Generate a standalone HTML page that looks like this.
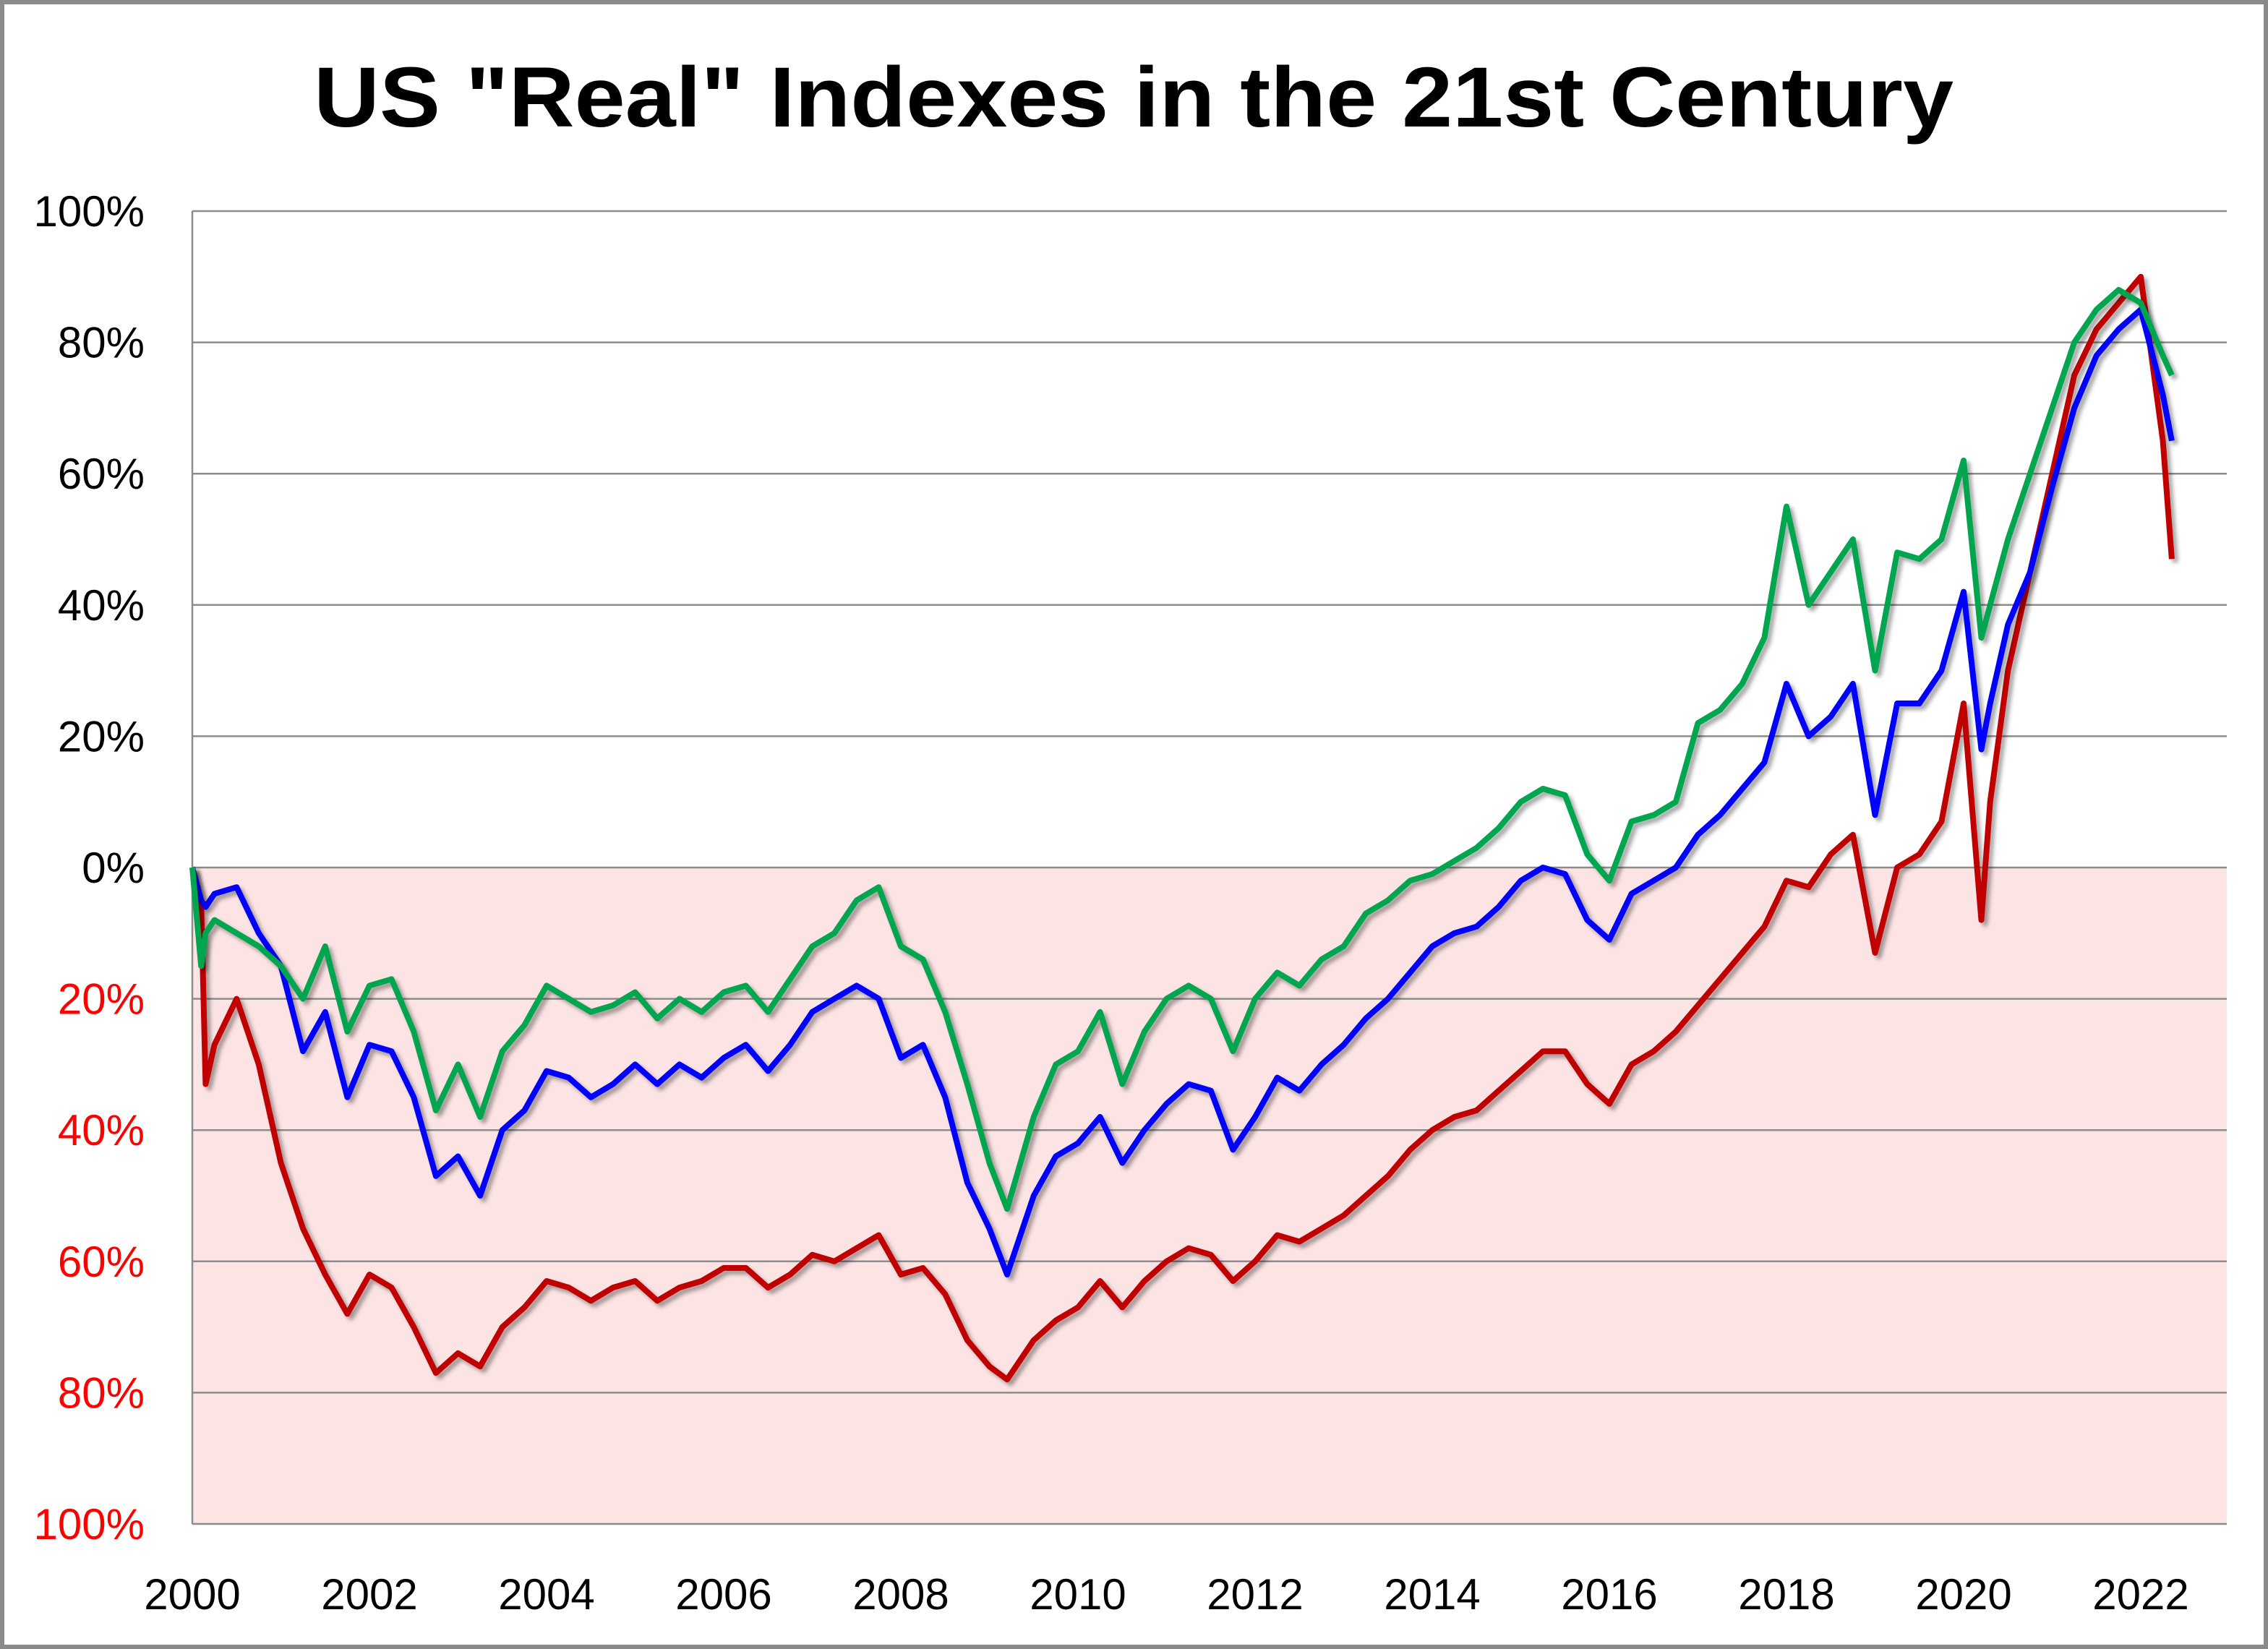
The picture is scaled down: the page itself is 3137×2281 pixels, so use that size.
<!DOCTYPE html>
<html><head><meta charset="utf-8"><style>
html,body{margin:0;padding:0;background:#fff}
svg{display:block}
text{font-family:"Liberation Sans",sans-serif}
</style></head><body>
<svg id="chart" width="3137" height="2281" viewBox="0 0 3137 2281">
<defs><filter id="sh" x="-5%" y="-5%" width="110%" height="110%"><feDropShadow dx="5" dy="5" stdDeviation="3" flood-color="#000" flood-opacity="0.35"/></filter></defs>
<rect x="3" y="3" width="3131" height="2275" fill="#fff" stroke="#8a8a8a" stroke-width="6"/>
<text x="1568" y="175" text-anchor="middle" font-size="118" font-weight="bold" textLength="2268" lengthAdjust="spacingAndGlyphs">US "Real" Indexes in the 21st Century</text>
<g id="plot"></g>
</svg>
<script>
const yTicks=[100,80,60,40,20,0,-20,-40,-60,-80,-100];
const xTicks=[2000,2002,2004,2006,2008,2010,2012,2014,2016,2018,2020,2022];
const dates=[0,0.1,0.15,0.25,0.5,0.75,1,1.25,1.5,1.75,2,2.25,2.5,2.75,3,3.25,3.5,3.75,4,4.25,4.5,4.75,5,5.25,5.5,5.75,6,6.25,6.5,6.75,7,7.25,7.5,7.75,8,8.25,8.5,8.75,9,9.2,9.5,9.75,10,10.25,10.5,10.75,11,11.25,11.5,11.75,12,12.25,12.5,12.75,13,13.25,13.5,13.75,14,14.25,14.5,14.75,15,15.25,15.5,15.75,16,16.25,16.5,16.75,17,17.25,17.5,17.75,18,18.25,18.5,18.75,19,19.25,19.5,19.75,20,20.2,20.3,20.5,20.75,21,21.25,21.5,21.75,22,22.25,22.35];
const green=[0,-15,-10,-8,-10,-12,-15,-20,-12,-25,-18,-17,-25,-37,-30,-38,-28,-24,-18,-20,-22,-21,-19,-23,-20,-22,-19,-18,-22,-17,-12,-10,-5,-3,-12,-14,-22,-33,-45,-52,-38,-30,-28,-22,-33,-25,-20,-18,-20,-28,-20,-16,-18,-14,-12,-7,-5,-2,-1,1,3,6,10,12,11,2,-2,7,8,10,22,24,28,35,55,40,45,50,30,48,47,50,62,35,40,50,60,70,80,85,88,86,78,75];
const blue=[0,-5,-6,-4,-3,-10,-15,-28,-22,-35,-27,-28,-35,-47,-44,-50,-40,-37,-31,-32,-35,-33,-30,-33,-30,-32,-29,-27,-31,-27,-22,-20,-18,-20,-29,-27,-35,-48,-55,-62,-50,-44,-42,-38,-45,-40,-36,-33,-34,-43,-38,-32,-34,-30,-27,-23,-20,-16,-12,-10,-9,-6,-2,0,-1,-8,-11,-4,-2,0,5,8,12,16,28,20,23,28,8,25,25,30,42,18,25,37,45,58,70,78,82,85,72,65];
const red=[0,-5,-33,-27,-20,-30,-45,-55,-62,-68,-62,-64,-70,-77,-74,-76,-70,-67,-63,-64,-66,-64,-63,-66,-64,-63,-61,-61,-64,-62,-59,-60,-58,-56,-62,-61,-65,-72,-76,-78,-72,-69,-67,-63,-67,-63,-60,-58,-59,-63,-60,-56,-57,-55,-53,-50,-47,-43,-40,-38,-37,-34,-31,-28,-28,-33,-36,-30,-28,-25,-21,-17,-13,-9,-2,-3,2,5,-13,0,2,7,25,-8,10,30,45,60,75,82,86,90,65,47];
const L=266,R=3080,T=292,B=2108;
const xs=y=>L+(y-2000)*122.5;
const ys=v=>T+(100-v)/200*(B-T);
const NS="http://www.w3.org/2000/svg";
const g=document.getElementById('plot');
function mk(t,a){const e=document.createElementNS(NS,t);for(const k in a)e.setAttribute(k,a[k]);g.appendChild(e);return e;}
let e=mk('rect',{x:L,y:ys(0),width:R-L,height:B-ys(0),fill:'#fde4e4'});


yTicks.forEach(v=>{
 const gl=mk('line',{x1:L,x2:R,y1:ys(v),y2:ys(v),stroke:'#8c8c8c','stroke-width':2.5});
 
 
 const t=mk('text',{x:200,y:ys(v)+21,'text-anchor':'end','font-size':60,fill:v<0?'#ff0000':'#000'});
 t.textContent=Math.abs(v)+'%';
 
 
});
e=mk('line',{x1:L,x2:L,y1:T,y2:B,stroke:'#8c8c8c','stroke-width':2.5});


xTicks.forEach(y=>{
 const t=mk('text',{x:xs(y),y:2226,'text-anchor':'middle','font-size':60});
 t.textContent=y;
 
 
});
[[red,'#c00000','red-series'],[blue,'#0000ff','blue-series'],[green,'#00a650','green-series']].forEach(([s,c,n])=>{
 const d=s.map((v,i)=>(i?'L':'M')+xs(2000+dates[i]).toFixed(1)+','+ys(v).toFixed(1)).join('');
 const p=mk('path',{d:d,fill:'none',stroke:c,'stroke-width':8,'stroke-linejoin':'round',filter:'url(#sh)'});
 
 
});
</script>
</body></html>
